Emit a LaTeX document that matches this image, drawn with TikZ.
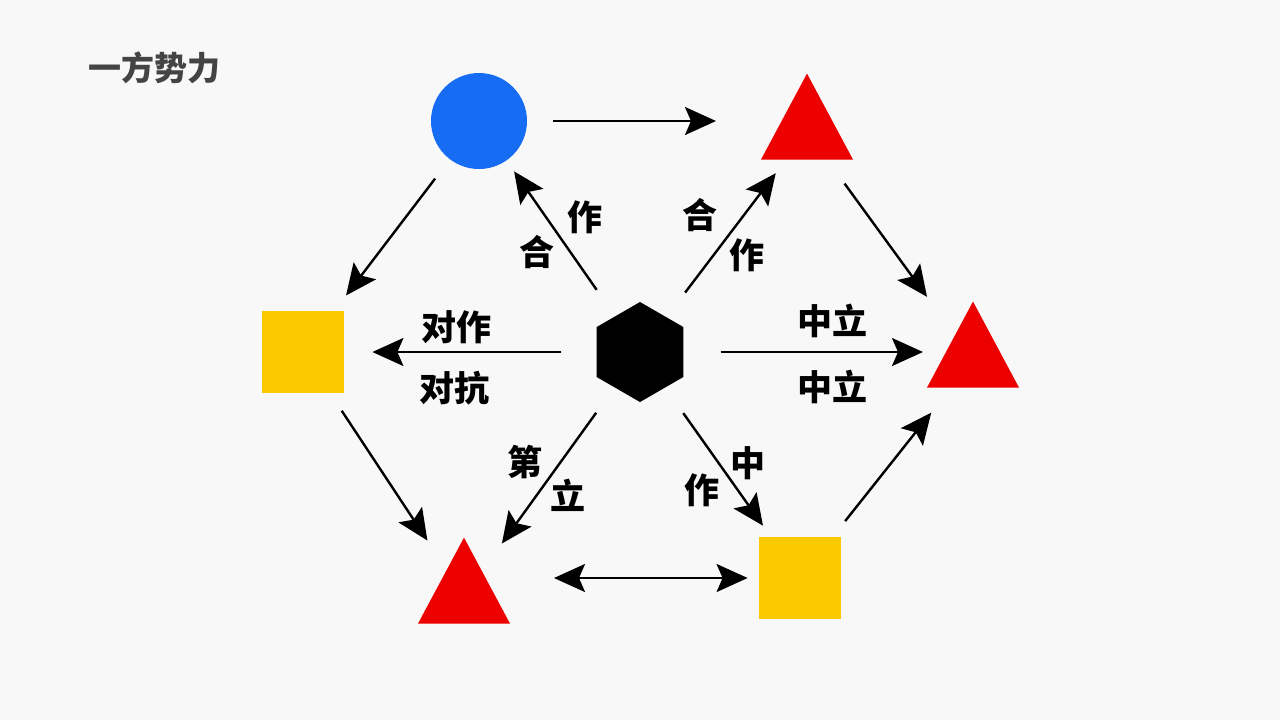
\documentclass[tikz,border=0pt]{standalone}
\usepackage{fontspec}
\newfontfamily\cjk{Noto Sans CJK SC}
\usetikzlibrary{arrows.meta, shapes.geometric}

\definecolor{bgpaper}{RGB}{248,248,248}
\definecolor{shapered}{RGB}{236,0,0}
\definecolor{shapeblue}{RGB}{22,108,242}
\definecolor{shapegold}{RGB}{252,201,0}
\definecolor{titlegray}{RGB}{68,68,68}

\begin{document}
\begin{tikzpicture}[
    x=0.5pt, y=0.5pt,
    font=\cjk\bfseries\fontsize{17.5}{20}\selectfont,
    tri/.style={isosceles triangle, isosceles triangle stretches, shape border rotate=90,
                minimum width=46pt, minimum height=43pt, inner sep=0pt, fill=shapered},
    sq/.style={rectangle, minimum size=41pt, inner sep=0pt, fill=shapegold},
    lbl/.style={inner sep=0pt},
    arr/.style={-{Stealth[length=15.5pt, width=14pt, inset=3pt]}, line width=1.2pt},
    dbl/.style={{Stealth[length=15.5pt, width=14pt, inset=3pt]}-{Stealth[length=15.5pt, width=14pt, inset=3pt]},
                line width=1.2pt},
]

    %==================== PAPER ====================
    \fill[bgpaper] (0,0) rectangle (1280,-720);

    %==================== TITLE ====================
    \node[lbl, text=titlegray, font=\cjk\bfseries\fontsize{16.5}{19}\selectfont] (title) at (154,-68) {一方势力};

    %==================== SHAPES ====================
    \node[circle, fill=shapeblue, minimum size=48pt, inner sep=0pt] (circ) at (479,-121) {};
    \node[tri] (triT) at (807,-132) {};
    \node[tri] (triR) at (973,-360) {};
    \node[tri] (triB) at (464,-596) {};
    \node[sq] (sqL) at (303,-352) {};
    \node[sq] (sqB) at (800,-578) {};
    \node[regular polygon, regular polygon sides=6, regular polygon rotate=30,
          minimum size=50pt, inner sep=0pt, fill=black] (hex) at (640,-352) {};

    %==================== OUTER RING ====================
    \draw[arr, shorten <=13pt, shorten >=45.5pt] (circ) -- (circ -| triT);
    \draw[arr, shorten <=14.6pt, shorten >=23.5pt] (triT) -- (triR);
    \draw[arr, shorten <=12pt, shorten >=9.5pt] (circ) -- (sqL);
    \draw[arr, shorten <=10.4pt, shorten >=17.3pt] (sqL) -- (triB);
    \draw[arr, shorten <=9.9pt, shorten >=15.75pt] (sqB) -- (triR);
    \draw[dbl, shorten <=45pt, shorten >=5.5pt] (sqB -| triB) -- (sqB);

    %==================== SPOKES ====================
    \draw[arr, shorten <=16pt, shorten >=6.5pt] (hex) -- (circ);
    \draw[arr, shorten <=15.3pt, shorten >=8.3pt] (hex) -- (triT);
    \draw[arr, shorten <=17.4pt, shorten >=14pt] (hex) -- (sqL);
    \draw[arr, shorten <=18.4pt, shorten >=25pt] (hex) -- (hex -| triR);
    \draw[arr, shorten <=15.5pt, shorten >=16.75pt] (hex) -- (triB);
    \draw[arr, shorten <=15.5pt, shorten >=6.7pt] (hex) -- (sqB);

    %==================== SPOKE LABELS ====================
    \node[lbl] (zuoA) at (585,-217) {作};
    \node[lbl] (heA) at (537,-252) {合};
    \node[lbl] (heB) at (700,-215) {合};
    \node[lbl] (zuoB) at (747,-255) {作};
    \node[lbl] (duizuo) at (456,-327) {对作};
    \node[lbl] (duikang) at (454,-388) {对抗};
    \node[lbl] (zlA) at (832,-321) {中立};
    \node[lbl] (zlB) at (832,-387) {中立};
    \node[lbl] (di) at (525,-462) {第};
    \node[lbl] (li) at (568,-495) {立};
    \node[lbl] (zhong) at (748,-463) {中};
    \node[lbl] (zuoC) at (702,-490) {作};

\end{tikzpicture}
\end{document}
